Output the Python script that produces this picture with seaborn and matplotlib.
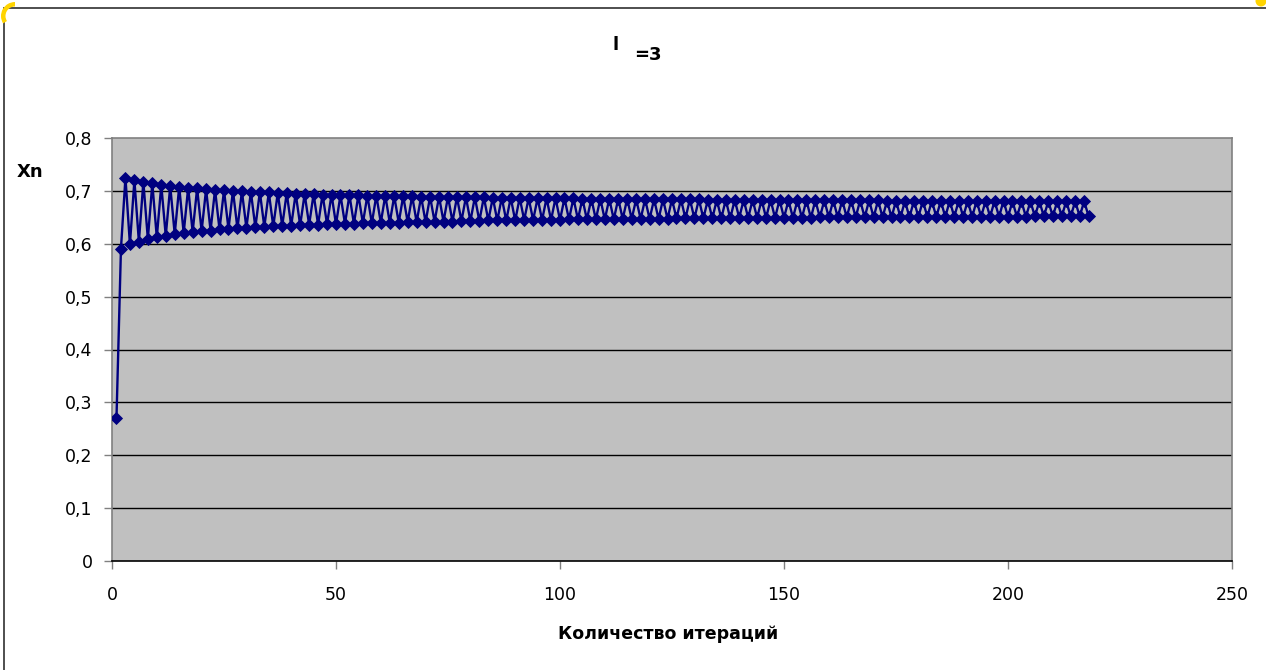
import matplotlib
matplotlib.use("Agg")
import matplotlib.pyplot as plt
from matplotlib.patches import Wedge, Circle
from matplotlib.transforms import IdentityTransform
from matplotlib.ticker import FuncFormatter, MultipleLocator
import pandas as pd
import seaborn as sns

# Logistic map, lambda = 3: first value, then the lower (even n) and upper (odd n >= 3) branches
first_value = 0.27
lower_branch = [
    0.591, 0.599, 0.604, 0.609, 0.612, 0.615, 0.618, 0.620, 0.622, 0.624,
    0.625, 0.627, 0.628, 0.629, 0.630, 0.631, 0.632, 0.633, 0.634, 0.634,
    0.635, 0.636, 0.636, 0.637, 0.637, 0.638, 0.638, 0.639, 0.639, 0.640,
    0.640, 0.640, 0.641, 0.641, 0.641, 0.642, 0.642, 0.642, 0.643, 0.643,
    0.643, 0.644, 0.644, 0.644, 0.644, 0.645, 0.645, 0.645, 0.645, 0.645,
    0.646, 0.646, 0.646, 0.646, 0.646, 0.646, 0.647, 0.647, 0.647, 0.647,
    0.647, 0.647, 0.648, 0.648, 0.648, 0.648, 0.648, 0.648, 0.648, 0.649,
    0.649, 0.649, 0.649, 0.649, 0.649, 0.649, 0.649, 0.649, 0.650, 0.650,
    0.650, 0.650, 0.650, 0.650, 0.650, 0.650, 0.650, 0.650, 0.650, 0.651,
    0.651, 0.651, 0.651, 0.651, 0.651, 0.651, 0.651, 0.651, 0.651, 0.651,
    0.651, 0.651, 0.652, 0.652, 0.652, 0.652, 0.652, 0.652, 0.652,
]
upper_branch = [
    0.725, 0.720, 0.717, 0.714, 0.711, 0.709, 0.708, 0.706, 0.705, 0.703,
    0.702, 0.701, 0.700, 0.699, 0.698, 0.698, 0.697, 0.696, 0.696, 0.695,
    0.694, 0.694, 0.693, 0.693, 0.692, 0.692, 0.692, 0.691, 0.691, 0.691,
    0.690, 0.690, 0.690, 0.689, 0.689, 0.689, 0.689, 0.688, 0.688, 0.688,
    0.688, 0.687, 0.687, 0.687, 0.687, 0.686, 0.686, 0.686, 0.686, 0.686,
    0.686, 0.685, 0.685, 0.685, 0.685, 0.685, 0.685, 0.684, 0.684, 0.684,
    0.684, 0.684, 0.684, 0.684, 0.684, 0.683, 0.683, 0.683, 0.683, 0.683,
    0.683, 0.683, 0.683, 0.683, 0.682, 0.682, 0.682, 0.682, 0.682, 0.682,
    0.682, 0.682, 0.682, 0.682, 0.682, 0.681, 0.681, 0.681, 0.681, 0.681,
    0.681, 0.681, 0.681, 0.681, 0.681, 0.681, 0.681, 0.681, 0.681, 0.680,
    0.680, 0.680, 0.680, 0.680, 0.680, 0.680, 0.680, 0.680,
]

title_symbol = "l"
title_value = "=3"
x_label = "Количество итераций"
y_label = "Xn"
x_ticks = [0, 50, 100, 150, 200, 250]

# Assemble the sequence x1, x2, x3, ... by alternating the two branches
values = [first_value]
for i, low in enumerate(lower_branch):
    values.append(low)
    if i < len(upper_branch):
        values.append(upper_branch[i])
df = pd.DataFrame({"n": range(1, len(values) + 1), "xn": values})

sns.set_style("white")
plt.rcParams["font.family"] = ["DejaVu Sans"]
plt.rcParams["text.color"] = "black"

W, H = 1266, 670
fig = plt.figure(figsize=(W / 100, H / 100), dpi=100)
fig.patch.set_facecolor("white")

left, right, top, bottom = 112, 1232, 138, 561
ax = fig.add_axes([left / W, 1 - bottom / H, (right - left) / W, (bottom - top) / H])
ax.set_facecolor("#C0C0C0")

navy = "#000080"
sns.lineplot(data=df, x="n", y="xn", ax=ax, color=navy, linewidth=1.7,
             marker="D", markersize=6.6, markeredgecolor=navy,
             markerfacecolor=navy, markeredgewidth=0.6, estimator=None,
             sort=False, zorder=3)

ax.set_xlim(0, 250)
ax.set_ylim(0, 0.8)
ax.set_xticks(x_ticks)
ax.yaxis.set_major_locator(MultipleLocator(0.1))
ax.yaxis.set_major_formatter(FuncFormatter(
    lambda v, _: "0" if abs(v) < 1e-9 else f"{v:.1f}".replace(".", ",")))
ax.xaxis.set_major_formatter(FuncFormatter(lambda v, _: f"{int(round(v))}"))

ax.grid(False)
for yv in [0.1 * k for k in range(1, 8)]:
    ax.axhline(yv, color="black", linewidth=1.0, zorder=1)

for side in ["left", "bottom", "right", "top"]:
    ax.spines[side].set_visible(True)
    ax.spines[side].set_color("#808080")
    ax.spines[side].set_linewidth(1.2)
ax.spines["bottom"].set_color("black")

ax.tick_params(axis="both", which="major", direction="out", length=6,
               width=1, color="#808080", labelsize=12.5, labelcolor="black")
ax.tick_params(axis="y", pad=8)
ax.tick_params(axis="x", pad=12)
ax.tick_params(left=True, bottom=True)

ax.set_xlabel("")
ax.set_ylabel("")

fig.text(30 / W, 1 - 172 / H, y_label, fontsize=13, fontweight="bold",
         ha="center", va="center", color="black")
fig.text(668 / W, 1 - 634 / H, x_label, fontsize=12.5, fontweight="bold",
         ha="center", va="center", color="black")
fig.text(616 / W, 1 - 45 / H, title_symbol, fontsize=13, fontweight="bold",
         ha="center", va="center", color="black")
fig.text(648 / W, 1 - 55 / H, title_value, fontsize=13, fontweight="bold",
         ha="center", va="center", color="black")

# Chart frame and selection handles at the top corners (display pixels)
fig.add_artist(plt.Line2D([4 / W, 4 / W], [0, 1 - 8 / H], transform=fig.transFigure,
                          color="#404040", linewidth=1.3))
fig.add_artist(plt.Line2D([4 / W, 1], [1 - 8 / H, 1 - 8 / H], transform=fig.transFigure,
                          color="#404040", linewidth=1.3))
px = IdentityTransform()
fig.add_artist(Wedge((15, H - 16), 14, 90, 212, width=4.5, transform=px,
                     facecolor="#FFD400", edgecolor="none", zorder=5))
fig.add_artist(Circle((1261, H - 1), 5.5, transform=px,
                      facecolor="#FFD400", edgecolor="none", zorder=5))

fig.savefig("out.png", dpi=100)
